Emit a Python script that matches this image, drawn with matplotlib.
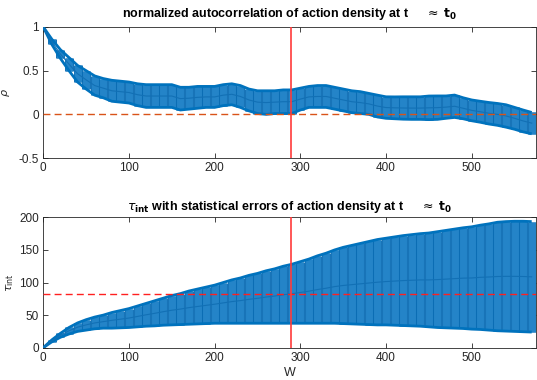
import numpy as np
import matplotlib
matplotlib.use("Agg")
import matplotlib.pyplot as plt

plt.rcParams['font.family'] = ['Liberation Sans', 'DejaVu Sans']
plt.rcParams['mathtext.fontset'] = 'dejavusans'

# window sizes W
W = np.arange(0, 580, 10)

# normalized autocorrelation rho(W) and its error
rho = [1.0, 0.83, 0.69, 0.575, 0.465, 0.395, 0.33, 0.30, 0.27, 0.26,
       0.25, 0.225, 0.21, 0.21, 0.21, 0.21, 0.18, 0.185, 0.195, 0.20,
       0.20, 0.22, 0.23, 0.205, 0.165, 0.14, 0.135, 0.14, 0.145, 0.145,
       0.175, 0.20, 0.205, 0.205, 0.185, 0.165, 0.145, 0.135, 0.12, 0.095,
       0.078, 0.075, 0.073, 0.072, 0.072, 0.075, 0.077, 0.083, 0.093, 0.07,
       0.046, 0.03, 0.013, 0.0, -0.018, -0.045, -0.075, -0.10]
rho_err = [0.0, 0.03, 0.05, 0.075, 0.095, 0.105, 0.11, 0.11, 0.12, 0.12,
           0.12, 0.125, 0.13, 0.13, 0.13, 0.13, 0.13, 0.125, 0.125, 0.12,
           0.12, 0.12, 0.12, 0.125, 0.125, 0.13, 0.135, 0.13, 0.135, 0.135,
           0.125, 0.12, 0.125, 0.125, 0.125, 0.125, 0.125, 0.125, 0.12, 0.125,
           0.123, 0.125, 0.128, 0.129, 0.129, 0.135, 0.134, 0.128, 0.128, 0.12,
           0.119, 0.12, 0.123, 0.125, 0.128, 0.125, 0.125, 0.122]

# integrated autocorrelation time and its error
tau = [0, 10.5, 19, 26, 31.5, 35, 38, 40, 42, 43.75,
       45.5, 48, 50.5, 52.75, 55.25, 57.5, 59.25, 61.5, 63.25, 65,
       66.75, 68.75, 70.75, 72.25, 74.25, 75.75, 77.75, 79.25, 81.25, 82.75,
       84.75, 86.75, 89.25, 91.25, 93.75, 95.5, 96.75, 98, 99.25, 100.5,
       101.5, 102.25, 103, 103.5, 104, 104, 104.5, 105.25, 106, 106.75,
       107, 108, 108.5, 109.25, 109.5, 109.5, 109.25, 108.75]
tau_err = [0, 1.5, 3, 5, 6.5, 8, 9, 10, 12, 13.25,
           14.5, 16, 17.5, 19.25, 20.75, 22.5, 23.75, 25.5, 26.75, 28,
           29.25, 31.25, 33.25, 34.75, 36.75, 38.25, 40.25, 41.75, 43.75, 45.25,
           47.25, 49.25, 51.75, 53.75, 56.25, 58.5, 60.25, 62, 63.75, 65.5,
           66.5, 67.75, 69, 70, 71, 72, 73.5, 74.75, 76, 77.25,
           78.5, 80, 81.5, 83.25, 84, 84.5, 84.75, 84.75]

W_cut = 289
tau_ref = 82

blue = '#0072BD'
txt = '#262626'

fig = plt.figure(figsize=(5.37, 3.80), dpi=100)
ax1 = fig.add_axes([0.0806, 0.584, 0.9175, 0.345])
ax2 = fig.add_axes([0.0806, 0.085, 0.9175, 0.343])


def band(ax, x, y, e):
    # dark pass then lighter pass -> striped look like matlab errorbar
    ax.errorbar(x, y, yerr=e, fmt='none', ecolor='#0b6db4', elinewidth=6.4,
                capsize=0, zorder=2)
    ax.errorbar(x, y, yerr=e, fmt='none', ecolor='#2484c8', elinewidth=5.0,
                capsize=0, zorder=3)
    lo = np.array(y) - np.array(e)
    hi = np.array(y) + np.array(e)
    ax.plot(x, lo, color=blue, lw=2.0, zorder=4, solid_capstyle='butt')
    ax.plot(x, hi, color=blue, lw=2.0, zorder=4, solid_capstyle='butt')
    ax.plot(x, y, color='#1270b5', lw=0.8, zorder=4)


band(ax1, W, rho, rho_err)
ax1.axhline(0, color='#D95319', ls='--', lw=1.0, dashes=(5, 3), zorder=5)
ax1.axvline(W_cut, color='#ff3b3b', lw=1.2, zorder=6)
ax1.set_ylim(-0.5, 1)
ax1.set_yticks([-0.5, 0, 0.5, 1])
ax1.set_yticklabels(['-0.5', '0', '0.5', '1'])
ax1.set_ylabel(r'$\rho$', fontsize=8, color=txt, labelpad=5)
ax1.set_title(r'normalized autocorrelation of action density at t     $\approx$ $\mathbf{t_0}$',
              fontsize=9, fontweight='bold', color='black', pad=7)

band(ax2, W, tau, tau_err)
ax2.axhline(tau_ref, color='#ff2020', ls='--', lw=1.0, dashes=(5, 3), zorder=5)
ax2.axvline(W_cut, color='#ff3b3b', lw=1.2, zorder=6)
ax2.set_ylim(0, 200)
ax2.set_yticks([0, 50, 100, 150, 200])
ax2.set_ylabel(r'$\tau_{\mathrm{int}}$', fontsize=8, color=txt, labelpad=2)
ax2.set_xlabel('W', fontsize=9, color=txt, labelpad=2)
ax2.set_title(r'$\tau_{\mathbf{int}}$ with statistical errors of action density at t     $\approx$ $\mathbf{t_0}$',
              fontsize=9, fontweight='bold', color='black', pad=5)

for ax in (ax1, ax2):
    ax.set_xlim(0, 575)
    ax.set_xticks([0, 100, 200, 300, 400, 500])
    ax.tick_params(direction='in', length=3.5, width=0.6, labelsize=8.5,
                   colors=txt, top=True, right=True, pad=3)
    for s in ax.spines.values():
        s.set_color(txt)
        s.set_linewidth(0.6)

fig.savefig('out.png', dpi=100)
